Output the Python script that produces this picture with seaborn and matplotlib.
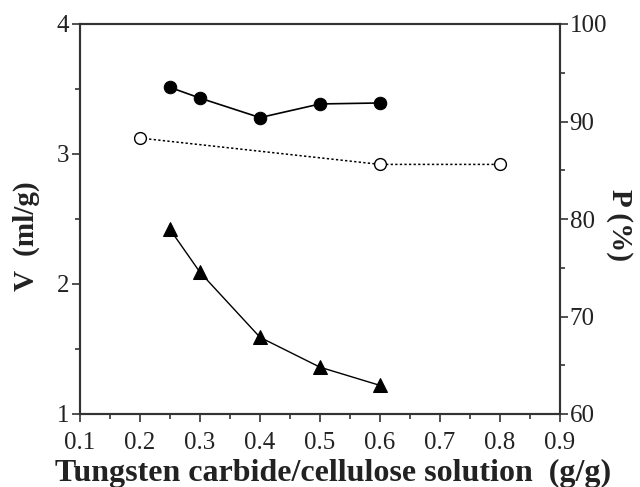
import matplotlib
matplotlib.use("Agg")
import matplotlib.pyplot as plt
import seaborn as sns
from matplotlib.ticker import MultipleLocator

sns.set_theme(style="white")
plt.rcParams['font.family'] = ['Liberation Serif', 'DejaVu Serif']

# Data
x_v = [0.25, 0.3, 0.4, 0.5, 0.6]
v_values = [2.42, 2.09, 1.59, 1.36, 1.22]
x_p_filled = [0.25, 0.3, 0.4, 0.5, 0.6]
p_filled = [93.5, 92.4, 90.4, 91.8, 91.9]
x_p_open = [0.2, 0.6, 0.8]
p_open = [88.3, 85.6, 85.6]
x_ticks = [0.1, 0.2, 0.3, 0.4, 0.5, 0.6, 0.7, 0.8, 0.9]
x_tick_labels = ['0.1', '0.2', '0.3', '0.4', '0.5', '0.6', '0.7', '0.8', '0.9']

fig = plt.figure(figsize=(6.4, 4.87), dpi=100)
ax = fig.add_axes([80/640, 1-414/487, 480/640, 390/487])
ax2 = ax.twinx()

sns.lineplot(x=x_v, y=v_values, ax=ax, color='black', lw=1, marker='^',
             markersize=10.5, markeredgecolor='black', markerfacecolor='black')
sns.lineplot(x=x_p_filled, y=p_filled, ax=ax2, color='black', lw=1.2, marker='o',
             markersize=9, markeredgecolor='black', markerfacecolor='black')
sns.lineplot(x=x_p_open, y=p_open, ax=ax2, color='black', lw=1.1, marker='o',
             linestyle=(0, (1.5, 1.5)),
             markersize=8.5, markeredgecolor='black', markerfacecolor='white', markeredgewidth=1)

ax.set_xlim(0.1, 0.9)
ax.set_ylim(1, 4)
ax2.set_ylim(60, 100)

ax.xaxis.set_minor_locator(MultipleLocator(0.05))
ax.yaxis.set_major_locator(MultipleLocator(1))
ax.yaxis.set_minor_locator(MultipleLocator(0.5))
ax2.yaxis.set_major_locator(MultipleLocator(10))
ax2.yaxis.set_minor_locator(MultipleLocator(5))

ax.set_xticks(x_ticks)
ax.set_xticklabels(x_tick_labels)

for a in (ax, ax2):
    for s in a.spines.values():
        s.set_color('#333333')
        s.set_linewidth(1.5)

ax.tick_params(axis='both', which='major', direction='out', length=6, width=1.2,
               color='#333333', labelsize=18, labelcolor='#222222', pad=2,
               bottom=True, left=True, top=False, right=False)
ax.tick_params(axis='x', which='major', pad=7)
ax.tick_params(axis='both', which='minor', direction='out', length=3.5, width=1.2,
               color='#333333', bottom=True, left=True, top=False, right=False)
ax2.tick_params(axis='y', which='major', direction='out', length=6, width=1.2,
                color='#333333', labelsize=18, labelcolor='#222222', pad=1, right=True)
ax2.tick_params(axis='y', which='minor', direction='out', length=3.5, width=1.2,
                color='#333333', right=True)

ax.set_xlabel('Tungsten carbide/cellulose solution  (g/g)', fontsize=23,
              fontweight='bold', color='#222222')
ax.xaxis.set_label_coords(0.527, -0.115)

ax.set_ylabel('V  (ml/g)', fontsize=21, fontweight='bold', color='#222222',
              ha='center', va='center', rotation_mode='anchor')
ax.yaxis.set_label_coords(-0.112, 0.456)

ax2.set_ylabel('P (%)', fontsize=21, fontweight='bold', color='#222222',
               rotation=270, ha='center', va='center', rotation_mode='anchor')
ax2.yaxis.set_label_coords(1.125, 0.485)

fig.savefig('out.png', dpi=100, facecolor='white')
